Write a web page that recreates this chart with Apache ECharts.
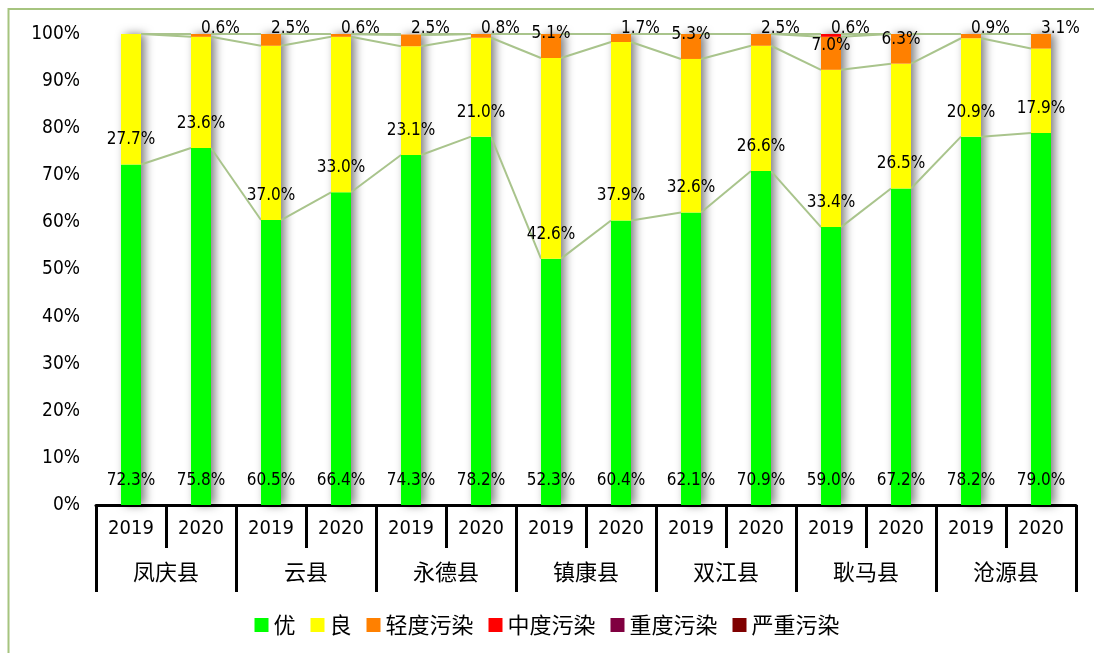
<!DOCTYPE html>
<html>
<head>
<meta charset="utf-8">
<script src="https://cdn.jsdelivr.net/npm/echarts@6/dist/echarts.min.js"></script>
<style>
html, body { margin: 0; padding: 0; background: #fff; }
#main { width: 1094px; height: 653px; }
</style>
</head>
<body>
<div id="main"></div>
<script>
// 各县 2019/2020 空气质量等级天数占比（%）
var counties = ['凤庆县', '云县', '永德县', '镇康县', '双江县', '耿马县', '沧源县'];
var years = ['2019', '2020'];
var names = ['优', '良', '轻度污染', '中度污染', '重度污染', '严重污染'];
var colors = ['#00ff00', '#ffff00', '#ff8000', '#ff0000', '#800040', '#7f0000'];

var you      = [72.3, 75.8, 60.5, 66.4, 74.3, 78.2, 52.3, 60.4, 62.1, 70.9, 59.0, 67.2, 78.2, 79.0];
var liang    = [27.7, 23.6, 37.0, 33.0, 23.1, 21.0, 42.6, 37.9, 32.6, 26.6, 33.4, 26.5, 20.9, 17.9];
var qingdu   = [0, 0.6, 2.5, 0.6, 2.5, 0.8, 5.1, 1.7, 5.3, 2.5, 7.0, 6.3, 0.9, 3.1];
var zhongdu  = [0, 0, 0, 0, 0, 0, 0, 0, 0, 0, 0.6, 0, 0, 0];
var zhongdu2 = [0, 0, 0, 0, 0, 0, 0, 0, 0, 0, 0, 0, 0, 0];   // 重度污染
var yanzhong = [0, 0, 0, 0, 0, 0, 0, 0, 0, 0, 0, 0, 0, 0];

var numFont = "'DejaVu Sans Condensed', 'Liberation Sans', 'Noto Sans CJK SC', sans-serif";
var cjkFont = "'Noto Sans CJK SC', sans-serif";
var BAR_W = 20;

var seriesData = [you, liang, qingdu, zhongdu, zhongdu2, yanzhong];

// 类目：县+年份（保证唯一），显示时只取年份
var cats = [];
counties.forEach(function (c) {
    years.forEach(function (y) { cats.push(c + ' ' + y); });
});

// 每根柱子各系列的累计顶部，用于画系列线
var cum = cats.map(function (c, i) {
    var s = 0;
    return seriesData.map(function (arr) { s += arr[i]; return s; });
});
var totals = cum.map(function (row) { return row[row.length - 1]; });
var lineData = [];
for (var i = 0; i < cats.length - 1; i++) {
    lineData.push([i].concat(cum[i], cum[i + 1]));
}

var series = [];
// 柱子阴影（白底柱）
series.push({
    name: 'shadow',
    type: 'bar',
    data: totals,
    barWidth: BAR_W,
    barGap: '-100%',
    z: 1,
    silent: true,
    itemStyle: { color: '#fff', shadowBlur: 10, shadowOffsetX: 4, shadowColor: 'rgba(0,0,0,0.5)' }
});
// 系列线
series.push({
    type: 'custom',
    z: 2,
    silent: true,
    data: lineData,
    encode: { x: 0, y: 1 },
    renderItem: function (params, api) {
        var idx = api.value(0);
        var x0 = api.coord([idx, 0])[0] + BAR_W / 2;
        var x1 = api.coord([idx + 1, 0])[0] - BAR_W / 2;
        var children = [];
        for (var k = 0; k < names.length; k++) {
            var y0 = api.coord([idx, api.value(1 + k)])[1];
            var y1 = api.coord([idx + 1, api.value(1 + names.length + k)])[1];
            children.push({
                type: 'line',
                shape: { x1: x0, y1: y0, x2: x1, y2: y1 },
                style: { stroke: '#a9c48c', lineWidth: 2 }
            });
        }
        return { type: 'group', children: children };
    }
});
names.forEach(function (n, k) {
    series.push({
        name: n,
        type: 'bar',
        stack: 'total',
        barWidth: BAR_W,
        barGap: '-100%',
        z: 3,
        data: seriesData[k].map(function (v) { return v > 0 ? v : '-'; }),
        itemStyle: { color: colors[k] },
        label: {
            show: true,
            position: 'insideBottom',
            distance: 16,
            fontSize: 17,
            color: '#000',
            fontFamily: numFont,
            formatter: function (p) { return p.value.toFixed(1) + '%'; }
        },
        labelLayout: function (p) {
            if (p.labelRect.y + p.labelRect.height / 2 < 29) {
                return { y: 29, verticalAlign: 'middle' };
            }
        }
    });
});

var myChart = echarts.init(document.getElementById('main'));
var option = {
    backgroundColor: '#fff',
    animation: false,
    graphic: [{
        type: 'rect',
        shape: { x: 8.5, y: 9, width: 1200, height: 800 },
        style: { fill: 'none', stroke: '#a6c47f', lineWidth: 2 },
        silent: true
    }],
    grid: { left: 96, right: 18, top: 34, bottom: 148 },
    legend: {
        data: names,
        left: 'center',
        top: 609,
        icon: 'rect',
        itemWidth: 14,
        itemHeight: 14,
        itemGap: 15,
        textStyle: { fontSize: 22, color: '#000', fontFamily: cjkFont }
    },
    xAxis: [{
        type: 'category',
        data: cats,
        position: 'bottom',
        axisLine: { show: true, lineStyle: { color: '#000', width: 3 } },
        axisTick: { show: true, interval: 0, length: 43, lineStyle: { color: '#000', width: 3 } },
        axisLabel: {
            interval: 0,
            margin: 14,
            fontSize: 20,
            color: '#000',
            fontFamily: numFont,
            formatter: function (v) { return v.slice(-4); }
        }
    }, {
        type: 'category',
        data: counties,
        position: 'bottom',
        axisLine: { show: false },
        axisTick: { show: true, interval: 0, length: 87, lineStyle: { color: '#000', width: 3 } },
        axisLabel: { interval: 0, margin: 56, fontSize: 22, color: '#000', fontFamily: cjkFont }
    }],
    yAxis: {
        type: 'value',
        min: 0,
        max: 100,
        interval: 10,
        axisLine: { show: false },
        axisTick: { show: false },
        splitLine: { show: false },
        axisLabel: { formatter: '{value}%', fontSize: 19, margin: 16, color: '#000', fontFamily: numFont }
    },
    series: series
};
myChart.setOption(option);
</script>
</body>
</html>
